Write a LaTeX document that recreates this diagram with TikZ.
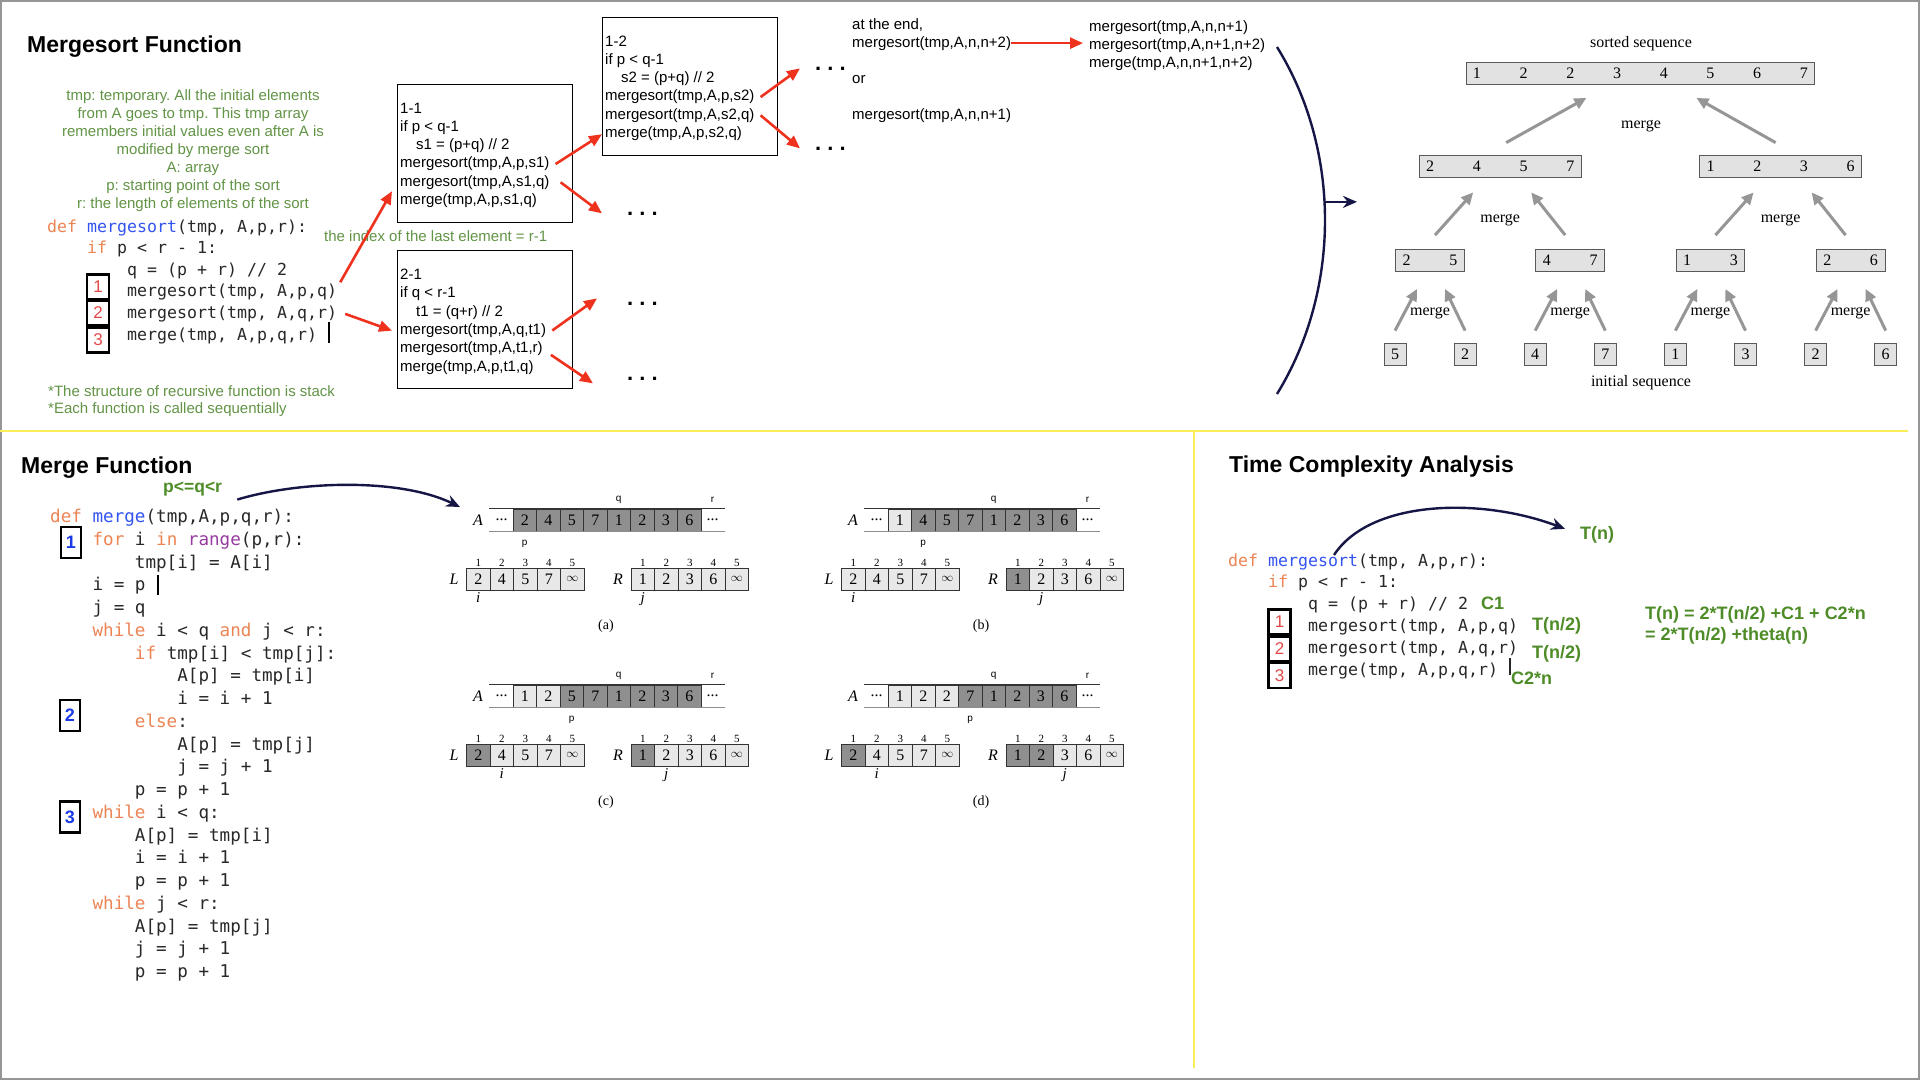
\documentclass[tikz,border=0pt]{standalone}
\usepackage{fontspec}
\setmainfont{Liberation Sans}
\newfontfamily\codefont{DejaVu Sans Mono}
\newfontfamily\serifont{Liberation Serif}
\usetikzlibrary{arrows.meta}
\usetikzlibrary{positioning}
\definecolor{kworange}{RGB}{236,132,84}
\definecolor{fnblue}{RGB}{52,84,240}
\definecolor{bipurple}{RGB}{150,60,160}
\definecolor{codegray}{RGB}{40,40,40}
\definecolor{notegreen}{RGB}{98,148,70}
\definecolor{evalgreen}{RGB}{78,140,40}
\definecolor{callred}{RGB}{238,50,30}
\definecolor{numred}{RGB}{226,72,72}
\definecolor{numblue}{RGB}{28,58,232}
\definecolor{curvenavy}{RGB}{22,22,70}
\definecolor{treegray}{RGB}{150,150,150}
\definecolor{barfill}{RGB}{226,226,226}
\definecolor{celldark}{RGB}{143,143,143}
\definecolor{celllight}{RGB}{232,232,232}
\definecolor{rulegold}{RGB}{248,238,90}
\definecolor{framegray}{RGB}{150,150,150}
\newcommand\kwd[1]{\textcolor{kworange}{#1}}
\newcommand\fnc[1]{\textcolor{fnblue}{#1}}
\newcommand\blt[1]{\textcolor{bipurple}{#1}}
\newcommand\cind{\hspace*{2.408em}}
\newcommand\gap{\hspace{38.7pt}}
\newcommand\inft{{\fontsize{12}{12}\selectfont$\infty$}}
\tikzset{title/.style = {anchor=base west, inner sep=0pt,
                         font=\bfseries\fontsize{23}{28}\selectfont}}
\tikzset{codeline/.style = {anchor=base west, inner sep=0pt, text=codegray,
                            font=\codefont\fontsize{16.6}{20}\selectfont}}
\tikzset{mergecode/.style = {codeline, font=\codefont\fontsize{17.6}{21}\selectfont}}
\tikzset{note/.style = {inner sep=0pt, text=notegreen, font=\fontsize{15}{18}\selectfont}}
\tikzset{evalnote/.style = {anchor=base west, inner sep=0pt, text=evalgreen,
                            font=\bfseries\fontsize{18}{18}\selectfont}}
\tikzset{boxtext/.style = {anchor=base west, inner sep=0pt, font=\fontsize{15}{18}\selectfont}}
\tikzset{callbox/.style = {draw, line width=1.2pt, anchor=north west, inner sep=0pt,
                           minimum width=175pt, minimum height=138pt}}
\tikzset{dots/.style = {anchor=base west, inner sep=0pt, font=\bfseries\fontsize{22}{22}\selectfont}}
\tikzset{callarrow/.style = {-{Triangle[length=13pt,width=11pt]}, line width=2.6pt, callred}}
\tikzset{navyarrow/.style = {-{Stealth[length=14pt,width=12pt]}, line width=2.4pt, curvenavy}}
\tikzset{numbox/.style = {draw, line width=2.6pt, minimum width=22pt, minimum height=25pt,
                          inner sep=0pt, text=numred, font=\fontsize{17}{17}\selectfont}}
\tikzset{bluebox/.style = {numbox, minimum width=20pt, minimum height=31pt, text=numblue,
                           font=\bfseries\fontsize{18}{18}\selectfont}}
\tikzset{seqbox/.style = {draw=black!65, fill=barfill, line width=0.8pt, minimum height=22pt,
                          inner xsep=7pt, inner ysep=0pt, font=\serifont\fontsize{16}{16}\selectfont}}
\tikzset{treetext/.style = {inner sep=0pt, font=\serifont\fontsize{16}{16}\selectfont}}
\tikzset{mergearrow/.style = {-{Triangle[length=12pt,width=11pt]}, line width=3pt, treegray}}
\tikzset{cell/.style = {draw=black!80, line width=0.7pt, minimum width=23.5pt, minimum height=22pt,
                        inner sep=0pt, font=\serifont\fontsize{16}{16}\selectfont}}
\tikzset{dotcell/.style = {cell, draw=none}}
\tikzset{arrname/.style = {inner sep=0pt, font=\serifont\itshape\fontsize{16}{16}\selectfont}}
\tikzset{ptr/.style = {inner sep=0pt, font=\fontsize{10}{10}\selectfont}}
\tikzset{idx/.style = {inner sep=1pt, font=\serifont\fontsize{11}{11}\selectfont}}
\tikzset{ijlabel/.style = {inner sep=1pt, font=\serifont\itshape\fontsize{15}{15}\selectfont}}
\tikzset{capt/.style = {inner sep=0pt, font=\serifont\fontsize{14}{14}\selectfont}}
% one step of merge: shift, letter, A values, light A cells, p, dark L cells, i, dark R cells, j
\newcommand\mergestep[9]{%
  \begin{scope}[shift={#1}]
    \node[arrname] (#2A) at (478,520) {A};
    \node[dotcell] (#2Al) at (501.5,520) {...};
    \node[dotcell] (#2Ar) at (712.5,520) {...};
    \foreach \v [count=\k] in {#3} {
      \ifnum\k>#4\relax\def\cf{celldark}\else\def\cf{celllight}\fi
      \node[cell, fill=\cf] (#2A\k) at ({501.25+23.5*\k},520) {\v};
    }
    \draw[black!80, line width=0.8pt] (#2Al.north west) -- (#2Ar.north east);
    \draw[black!45, line width=0.8pt] (#2Al.south west) -- (#2Ar.south east);
    \node[ptr] (#2q) at ([yshift=9pt]#2A5.north) {q};
    \node[ptr] (#2r) at ([yshift=9pt]#2Ar.north) {r};
    \node[ptr] (#2p) at ([yshift=-12pt]#2A#5.south) {p};
    \node[arrname] (#2L) at (454,579) {L};
    \foreach \v [count=\k] in {2,4,5,7,\inft} {
      \ifnum\k>#6\relax\def\cf{celllight}\else\def\cf{celldark}\fi
      \node[cell, fill=\cf] (#2L\k) at ({454.75+23.5*\k},579) {\v};
      \node[idx, above=0pt of #2L\k] (#2Ln\k) {\k};
    }
    \node[ijlabel, below=1pt of #2L#7] (#2i) {i};
    \node[arrname] (#2R) at (618,579) {R};
    \foreach \v [count=\k] in {1,2,3,6,\inft} {
      \ifnum\k>#8\relax\def\cf{celllight}\else\def\cf{celldark}\fi
      \node[cell, fill=\cf] (#2R\k) at ({619.25+23.5*\k},579) {\v};
      \node[idx, above=0pt of #2R\k] (#2Rn\k) {\k};
    }
    \node[ijlabel, below=1pt of #2R#9] (#2j) {j};
    \node[capt] (#2cap) at (606,626) {(#2)};
  \end{scope}}

\begin{document}
\frenchspacing
\begin{tikzpicture}[x=1pt, y=-1pt]
  \useasboundingbox (0,0) rectangle (1920,1080);
  \fill[white] (0,0) rectangle (1920,1080);
  \draw[framegray, line width=2pt] (1,1) rectangle (1919,1079);
  \draw[rulegold, line width=2.5pt] (0,431) -- (1908,431);
  \draw[rulegold, line width=2.5pt] (1194,431) -- (1194,1068);

  % Mergesort function
  \node[title] (mstitle) at (27,52) {Mergesort Function};
  \foreach \t [count=\k] in {{tmp: temporary. All the initial elements},
                             {from A goes to tmp. This tmp array},
                             {remembers initial values even after A is},
                             {modified by merge sort}, {A: array},
                             {p: starting point of the sort},
                             {r: the length of elements of the sort}}
    \node[note, anchor=base] (nt\k) at (193,{100.5+18*(\k-1)}) {\t};
  \foreach \t [count=\k] in {{\kwd{def} \fnc{mergesort}(tmp, A,p,r):},
                             {\cind\kwd{if} p < r - 1:},
                             {\cind\cind q = (p + r) // 2},
                             {\cind\cind mergesort(tmp, A,p,q)},
                             {\cind\cind mergesort(tmp, A,q,r)},
                             {\cind\cind merge(tmp, A,p,q,r)}}
    \node[codeline] (ms\k) at (47,{232+21.6*(\k-1)}) {\t};
  \draw[black, line width=1.4pt] (329,322) -- (329,343);
  \node[numbox] (n1) at (98,287) {1};
  \node[numbox] (n2) at (98,313) {2};
  \node[numbox] (n3) at (98,340) {3};
  \node[note, anchor=base west] (st1) at (48,396) {*The structure of recursive function is stack};
  \node[note, anchor=base west] (st2) at (48,413.5) {*Each function is called sequentially};
  \node[note, anchor=base west] (last) at (324,241) {the index of the last element = r-1};

  % recursive calls
  \node[callbox] (b11) at (397,84) {};
  \foreach \t [count=\k] in {{1-1}, {if p < q-1}, {\hspace*{16pt}s1 = (p+q) // 2},
                             {mergesort(tmp,A,p,s1)}, {mergesort(tmp,A,s1,q)},
                             {merge(tmp,A,p,s1,q)}}
    \node[boxtext] (b11t\k) at (400,{113+18.3*(\k-1)}) {\t};
  \node[callbox] (b12) at (602,17) {};
  \foreach \t [count=\k] in {{1-2}, {if p < q-1}, {\hspace*{16pt}s2 = (p+q) // 2},
                             {mergesort(tmp,A,p,s2)}, {mergesort(tmp,A,s2,q)},
                             {merge(tmp,A,p,s2,q)}}
    \node[boxtext] (b12t\k) at (605,{46+18.3*(\k-1)}) {\t};
  \node[callbox] (b21) at (397,250) {};
  \foreach \t [count=\k] in {{2-1}, {if q < r-1}, {\hspace*{16pt}t1 = (q+r) // 2},
                             {mergesort(tmp,A,q,t1)}, {mergesort(tmp,A,t1,r)},
                             {merge(tmp,A,p,t1,q)}}
    \node[boxtext] (b21t\k) at (400,{279.5+18.3*(\k-1)}) {\t};
  \node[dots] (dA) at (627,215) {. . .};
  \node[dots] (dB) at (815,70) {. . .};
  \node[dots] (dC) at (815,150) {. . .};
  \node[dots] (dD) at (627,305) {. . .};
  \node[dots] (dE) at (627,380) {. . .};
  \draw[callarrow] ([shift={(3pt,10pt)}]ms4.east) -- ([shift={(-5pt,32pt)}]b11.south west);
  \draw[callarrow] ([xshift=8pt]ms5.east) -- ([shift={(-5pt,-11pt)}]b21.west);
  \draw[callarrow] ([xshift=6pt]b11t4.east) -- ([yshift=22pt]b12.south west);
  \draw[callarrow] ([xshift=11pt]b11t5.east) -- ([xshift=-25pt]dA.west);
  \draw[callarrow] ([xshift=6pt]b12t4.east) -- ([xshift=-15pt]dB.west);
  \draw[callarrow] ([xshift=6pt]b12t5.east) -- ([xshift=-15pt]dC.west);
  \draw[callarrow] ([xshift=6pt]b21t4.east) -- ([shift={(-30pt,5pt)}]dD.west);
  \draw[callarrow] ([shift={(8pt,-6pt)}]b21t5.east) -- ([shift={(-34pt,-5pt)}]dE.west);

  % base case
  \node[boxtext] (ae1) at (852,29) {at the end,};
  \node[boxtext] (ae2) at (852,47) {mergesort(tmp,A,n,n+2)};
  \node[boxtext] (ae3) at (852,83) {or};
  \node[boxtext] (ae4) at (852,119) {mergesort(tmp,A,n,n+1)};
  \node[boxtext] (fin1) at (1089,31) {mergesort(tmp,A,n,n+1)};
  \node[boxtext] (fin2) at (1089,49) {mergesort(tmp,A,n+1,n+2)};
  \node[boxtext] (fin3) at (1089,67) {merge(tmp,A,n,n+1,n+2)};
  \draw[callarrow, shorten >=6pt] (ae2.east) -- (ae2.east -| fin2.west);
  \draw[curvenavy, line width=2.4pt] (1277,47) .. controls (1341,150) and (1341,290) .. (1277,394)
    coordinate[pos=0.45] (arcmid);
  \coordinate (treein) at (1357,208);
  \draw[navyarrow] (arcmid) -- (arcmid -| treein);

  % merge tree
  \node[treetext] (sortedlbl) at (1641,44) {sorted sequence};
  \node[seqbox] (sorted) at (1640.4,73) {1\gap 2\gap 2\gap 3\gap 4\gap 5\gap 6\gap 7};
  \node[seqbox] (half1) at (1500.2,166.5) {2\gap 4\gap 5\gap 7};
  \node[seqbox] (half2) at (1780.6,166.5) {1\gap 2\gap 3\gap 6};
  \foreach \v [count=\k] in {{2\gap 5},{4\gap 7},{1\gap 3},{2\gap 6}}
    \node[seqbox] (pair\k) at ({1289.8+140.2*\k},260.5) {\v};
  \foreach \v [count=\k] in {5,2,4,7,1,3,2,6}
    \node[seqbox] (leaf\k) at ({1324.9+70.1*\k},354) {\v};
  \node[treetext] (initlbl) at (1641,383) {initial sequence};
  \foreach \k in {1,...,4} {
    \pgfmathtruncatemacro\a{2*\k-1}
    \pgfmathtruncatemacro\b{2*\k}
    \draw[mergearrow] ([yshift=12pt]leaf\a.north) -- ([shift={(-13pt,-17pt)}]pair\k.south);
    \draw[mergearrow] ([yshift=12pt]leaf\b.north) -- ([shift={(15pt,-17pt)}]pair\k.south);
    \node[treetext] (mgc\k) at ([yshift=-52.5pt]pair\k.center) {merge};
  }
  \foreach \k in {1,2} {
    \pgfmathtruncatemacro\a{2*\k-1}
    \pgfmathtruncatemacro\b{2*\k}
    \draw[mergearrow] ([shift={(5pt,14pt)}]pair\a.north) -- ([shift={(-27pt,-14.5pt)}]half\k.south);
    \draw[mergearrow] ([shift={(-5pt,14pt)}]pair\b.north) -- ([shift={(31pt,-14.5pt)}]half\k.south);
    \node[treetext] (mgb\k) at ([yshift=-53.5pt]half\k.center) {merge};
  }
  \draw[mergearrow] ([shift={(6pt,12.5pt)}]half1.north) -- ([shift={(-54pt,-13.5pt)}]sorted.south);
  \draw[mergearrow] ([shift={(-5pt,12.5pt)}]half2.north) -- ([shift={(56pt,-13.5pt)}]sorted.south);
  \node[treetext] (mga) at (1641,126) {merge};

  % Merge function
  \node[title] (mftitle) at (21,473) {Merge Function};
  \node[anchor=base west, inner sep=0pt, text=evalgreen, font=\bfseries\fontsize{17.5}{17.5}\selectfont]
    (pqr) at (163,492) {p<=q<r};
  \foreach \t [count=\k] in {{\kwd{def} \fnc{merge}(tmp,A,p,q,r):},
                             {\cind\kwd{for} i \kwd{in} \blt{range}(p,r):},
                             {\cind\cind tmp[i] = A[i]},
                             {\cind i = p}, {\cind j = q},
                             {\cind\kwd{while} i < q \kwd{and} j < r:},
                             {\cind\cind\kwd{if} tmp[i] < tmp[j]:},
                             {\cind\cind\cind A[p] = tmp[i]},
                             {\cind\cind\cind i = i + 1},
                             {\cind\cind\kwd{else}:},
                             {\cind\cind\cind A[p] = tmp[j]},
                             {\cind\cind\cind j = j + 1},
                             {\cind\cind p = p + 1},
                             {\cind\kwd{while} i < q:},
                             {\cind\cind A[p] = tmp[i]},
                             {\cind\cind i = i + 1},
                             {\cind\cind p = p + 1},
                             {\cind\kwd{while} j < r:},
                             {\cind\cind A[p] = tmp[j]},
                             {\cind\cind j = j + 1},
                             {\cind\cind p = p + 1}}
    \node[mergecode] (mc\k) at (50,{522.5+22.75*(\k-1)}) {\t};
  \draw[black, line width=1.4pt] (158,575) -- (158,595);
  \node[bluebox] (mb1) at (71,542.5) {1};
  \node[bluebox] (mb2) at (70,715.5) {2};
  \node[bluebox] (mb3) at (70,817) {3};

  \mergestep{(0,0)}{a}{2,4,5,7,1,2,3,6}{0}{1}{0}{1}{0}{1}
  \mergestep{(375,0)}{b}{1,4,5,7,1,2,3,6}{1}{2}{0}{1}{1}{2}
  \mergestep{(0,176)}{c}{1,2,5,7,1,2,3,6}{2}{3}{1}{2}{1}{2}
  \mergestep{(375,176)}{d}{1,2,2,7,1,2,3,6}{3}{4}{1}{2}{2}{3}
  \draw[navyarrow] ([shift={(15pt,-11pt)}]pqr.east) .. controls +(63,-19) and +(-60,-29) ..
    ([shift={(-18pt,13pt)}]aA.center);

  % Time complexity analysis
  \node[title] (tctitle) at (1229,472) {Time Complexity Analysis};
  \foreach \t [count=\k] in {{\kwd{def} \fnc{mergesort}(tmp, A,p,r):},
                             {\cind\kwd{if} p < r - 1:},
                             {\cind\cind q = (p + r) // 2},
                             {\cind\cind mergesort(tmp, A,p,q)},
                             {\cind\cind mergesort(tmp, A,q,r)},
                             {\cind\cind merge(tmp, A,p,q,r)}}
    \node[codeline] (tc\k) at (1228,{566+21.8*(\k-1)}) {\t};
  \node[numbox] (tn1) at (1279.5,622) {1};
  \node[numbox] (tn2) at (1279.5,649) {2};
  \node[numbox] (tn3) at (1279.5,675.5) {3};
  \node[evalnote] (c1) at (1481,609.5) {C1};
  \node[evalnote] (th1) at (1532,630.5) {T(n/2)};
  \node[evalnote] (th2) at (1532,658.5) {T(n/2)};
  \node[evalnote] (c2n) at (1511,684.5) {C2*n};
  \draw[codegray, line width=1.2pt] (1510,658) -- (1510,675);
  \node[evalnote] (tnl) at (1580,539.5) {T(n)};
  \node[evalnote] (rec1) at (1645,619.5) {T(n) = 2*T(n/2) +C1 + C2*n};
  \node[evalnote] (rec2) at (1645,640.5) {= 2*T(n/2) +theta(n)};
  \draw[navyarrow] ([shift={(106pt,11pt)}]tc1.base west) .. controls +(36,-55) and +(-85,-32) ..
    ([shift={(-15pt,6pt)}]tnl.west);
\end{tikzpicture}
\end{document}
